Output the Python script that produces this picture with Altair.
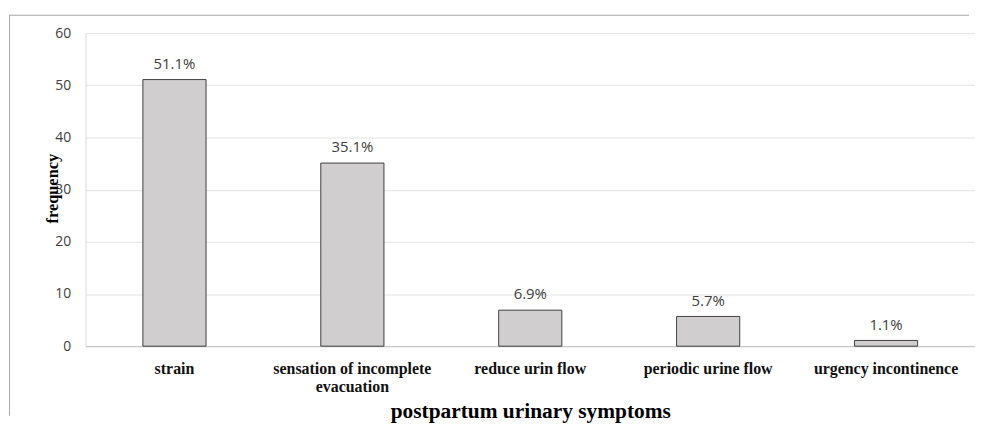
import altair as alt
import pandas as pd

categories = ["strain", "sensation of incomplete evacuation", "reduce urin flow",
              "periodic urine flow", "urgency incontinence"]
values = [51.1, 35.1, 6.9, 5.7, 1.1]
labels = ["51.1%", "35.1%", "6.9%", "5.7%", "1.1%"]
y_ticks = [0, 10, 20, 30, 40, 50, 60]

df = pd.DataFrame({"symptom": categories, "frequency": values, "label": labels})

W, H = 889, 315
BAND_RANGE = 895

x_enc = alt.X(
    "symptom:N", sort=None,
    scale=alt.Scale(paddingInner=0.645, paddingOuter=0.3225, range=[0, BAND_RANGE]),
    axis=alt.Axis(
        title="postpartum urinary symptoms",
        titleFont="Liberation Serif", titleFontWeight="bold", titleFontSize=21.5,
        titleColor="#000000", titleX=BAND_RANGE / 2, titleY=71.5,
        titleAlign="center", titleBaseline="alphabetic",
        labelAngle=0, labelFont="Liberation Serif", labelFontWeight="bold",
        labelFontSize=16, labelColor="#111111", labelPadding=14,
        labelBaseline="top", labelLineHeight=19, labelOverlap=False, labelLimit=0,
        labelExpr="datum.label == 'sensation of incomplete evacuation' ? ['sensation of incomplete', 'evacuation'] : datum.label",
        ticks=False, domainColor="#bfbfbf", domainWidth=1, grid=False,
    ),
)
y_enc = alt.Y(
    "frequency:Q",
    scale=alt.Scale(domain=[0, 60], nice=False),
    axis=alt.Axis(
        title="frequency", values=y_ticks,
        titleFont="Liberation Serif", titleFontWeight="bold", titleFontSize=16.5,
        titleColor="#000000", titleAngle=270, titleX=-33, titleY=156,
        titleAlign="center", titleBaseline="middle",
        labelFont="Open Sans", labelFontSize=14, labelColor="#404040",
        labelPadding=15, ticks=False,
        domainColor="#d9d9d9", gridColor="#e4e4e4", gridWidth=1,
    ),
)

base = alt.Chart(df)

bars = base.mark_bar(fill="#d0cece", stroke="#404040", strokeWidth=1).encode(
    x=x_enc, y=y_enc
)
text = base.mark_text(
    dy=-11, baseline="alphabetic", font="Open Sans", fontSize=15, color="#404040"
).encode(x=alt.X("symptom:N", sort=None), y="frequency:Q", text="label:N")

frame_top = alt.Chart(df.head(1)).mark_rule(color="#a6a6a6", strokeWidth=1).encode(
    x=alt.value(-77), x2=alt.value(W), y=alt.value(-18)
)
frame_left = alt.Chart(df.head(1)).mark_rule(color="#a6a6a6", strokeWidth=1).encode(
    x=alt.value(-76.5), y=alt.value(-18), y2=alt.value(385)
)

chart = alt.layer(bars, text, frame_top, frame_left).properties(
    width=W, height=H,
    padding={"top": 5, "left": 0, "right": 0, "bottom": 0},
    background="white",
).configure_view(stroke=None)

chart.save("out.html", embed_options={"renderer": "svg", "actions": False})
